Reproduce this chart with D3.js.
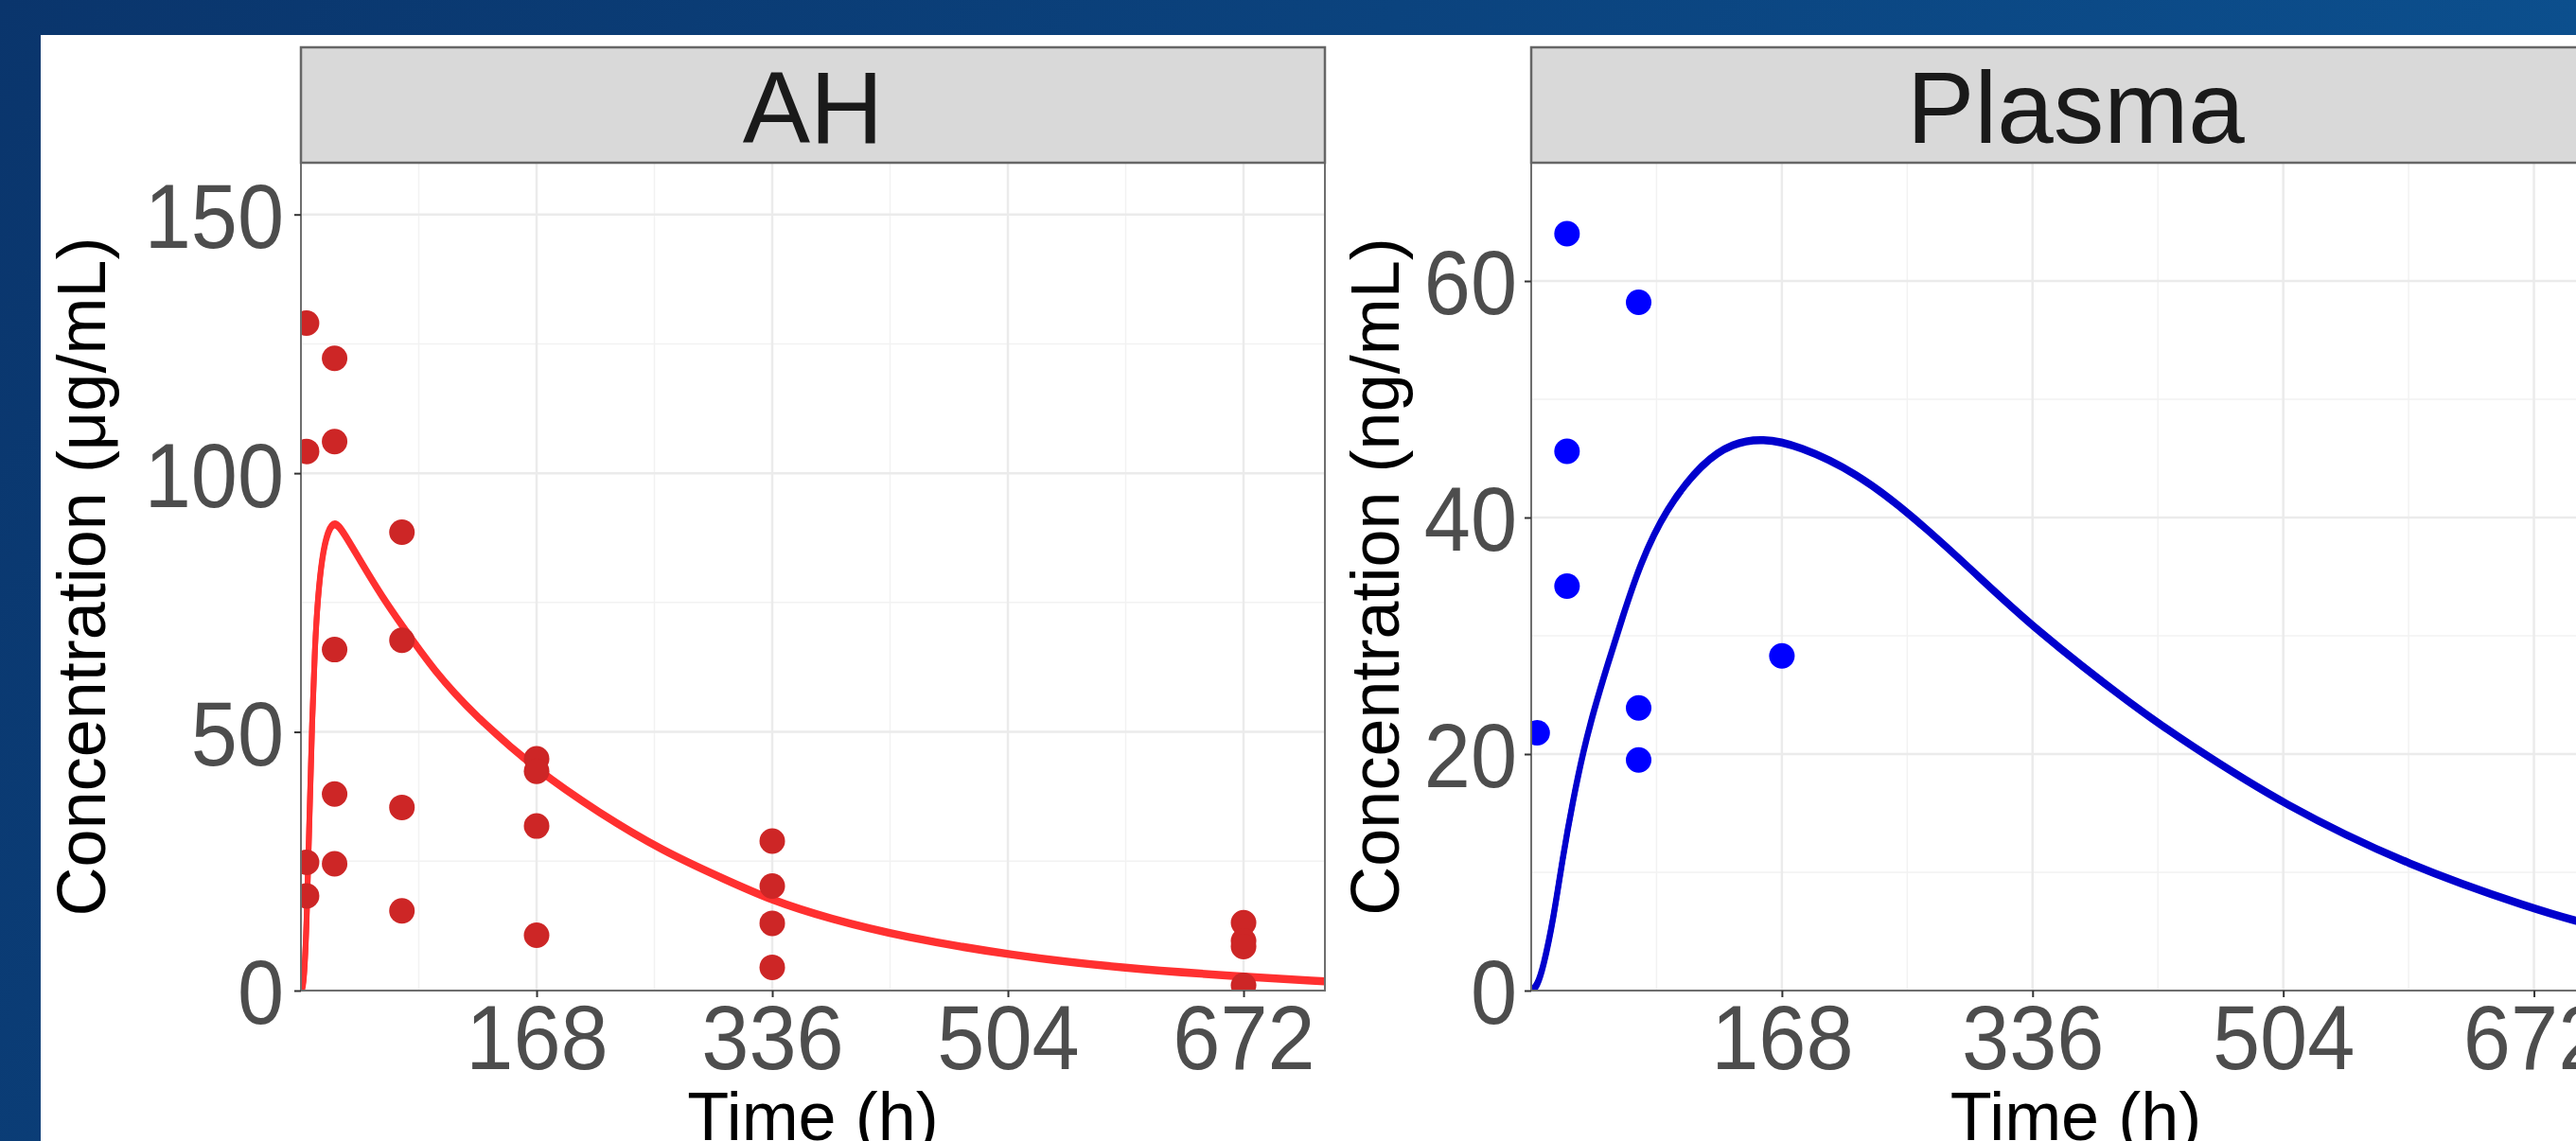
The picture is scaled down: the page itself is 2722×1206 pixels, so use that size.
<!DOCTYPE html>
<html>
<head>
<meta charset="utf-8">
<script src="https://cdn.jsdelivr.net/npm/d3@7"></script>
<style>
  html, body { margin: 0; padding: 0; overflow: hidden; background: #0b3f7a; }
  svg { display: block; font-family: "Liberation Sans", Arial, sans-serif; }
</style>
</head>
<body>
<svg id="chart" width="2722" height="1206"></svg>
<script>
// observed AH concentrations: [time (h), conc (µg/mL)]
const ahObs = [
  [4, 129], [4, 104.2], [4, 24.8], [4, 18.3],
  [24, 122.2], [24, 106.1], [24, 65.9], [24, 38], [24, 24.5],
  [72, 88.6], [72, 67.7], [72, 35.4], [72, 15.4],
  [168, 44.8], [168, 42.4], [168, 31.8], [168, 10.7],
  [336, 28.9], [336, 20.2], [336, 13], [336, 4.5],
  [672, 13.1], [672, 9.6], [672, 8.5], [672, 1]
];

// model prediction AH
const ahModel = [
  [0, 0], [2, 1], [4, 12], [6, 33], [8, 53], [10, 67], [12, 76], [15, 84],
  [19, 89], [24, 91], [30, 89], [44, 82.5], [58, 76.3], [72, 70.8], [95, 62],
  [123, 53.6], [168, 42.8], [213, 34.5], [258, 27.2], [300, 22], [336, 17.6],
  [377, 14.1], [429, 10.6], [507, 7], [584, 4.6], [672, 2.9], [730, 2]
];

// observed plasma concentrations: [time (h), conc (ng/mL)]
const plasmaObs = [
  [4, 21.8], [24, 64], [24, 45.6], [24, 34.2],
  [72, 58.2], [72, 23.9], [72, 19.5], [168, 28.3]
];

// model prediction plasma
const plasmaModel = [
  [0, 0], [4, 0.5], [8, 2], [15, 6.2], [21, 11.3], [28, 16.2], [35, 20.4],
  [42, 23.8], [51, 27.6], [61, 31.6], [73, 36.2], [90, 40.8], [115, 44.8],
  [135, 46.4], [155, 46.8], [179, 46.2], [218, 43.9], [255, 40.3], [295, 35.7],
  [336, 30.8], [406, 23.9], [440, 21], [504, 15.8], [589, 10.6], [672, 7],
  [700, 6], [730, 5]
];

const timeDomain = [0, 730];
const xTicks = [168, 336, 504, 672];
const xMinor = [84, 252, 420, 588];
const ahYTicks = [0, 50, 100, 150];
const ahYMinor = [25, 75, 125];
const plasmaYTicks = [0, 20, 40, 60];
const plasmaYMinor = [10, 30, 50];

const svg = d3.select("#chart");
const W = 2722, H = 1206;
const panelTop = 172, panelBottom = 1047, stripTop = 50;

// slide background
const defs = svg.append("defs");
const grad = defs.append("linearGradient").attr("id", "bg")
  .attr("x1", 0).attr("y1", 0).attr("x2", 1).attr("y2", 0.3);
grad.append("stop").attr("offset", "0%").attr("stop-color", "#0a356c");
grad.append("stop").attr("offset", "100%").attr("stop-color", "#0c5190");
svg.append("rect").attr("width", W).attr("height", H).attr("fill", "url(#bg)");
svg.append("rect").attr("x", 43).attr("y", 37).attr("width", W - 43).attr("height", H - 37)
  .attr("fill", "#ffffff");

// tick labels in the original are a little narrower than Liberation Sans
function narrow(sel, k) {
  sel.each(function () {
    const len = this.getComputedTextLength();
    d3.select(this).attr("textLength", len * k).attr("lengthAdjust", "spacingAndGlyphs");
  });
}

function drawPanel(cfg) {
  const x = d3.scaleLinear().domain(timeDomain).range([cfg.left, cfg.right]);
  const y = d3.scaleLinear().domain(cfg.yDomain).range([panelBottom, panelTop]);
  const g = svg.append("g");

  defs.append("clipPath").attr("id", "clip-" + cfg.name)
    .append("rect")
    .attr("x", cfg.left).attr("y", panelTop)
    .attr("width", cfg.right - cfg.left).attr("height", panelBottom - panelTop);

  // minor grid
  g.selectAll(".vminor").data(xMinor).join("line")
    .attr("x1", d => x(d)).attr("x2", d => x(d))
    .attr("y1", panelTop).attr("y2", panelBottom)
    .attr("stroke", "#f2f2f2").attr("stroke-width", 1.5);
  g.selectAll(".hminor").data(cfg.yMinor).join("line")
    .attr("x1", cfg.left).attr("x2", cfg.right)
    .attr("y1", d => y(d)).attr("y2", d => y(d))
    .attr("stroke", "#f2f2f2").attr("stroke-width", 1.5);
  // major grid
  g.selectAll(".vmajor").data(xTicks).join("line")
    .attr("x1", d => x(d)).attr("x2", d => x(d))
    .attr("y1", panelTop).attr("y2", panelBottom)
    .attr("stroke", "#ebebeb").attr("stroke-width", 2.5);
  g.selectAll(".hmajor").data(cfg.yTicks).join("line")
    .attr("x1", cfg.left).attr("x2", cfg.right)
    .attr("y1", d => y(d)).attr("y2", d => y(d))
    .attr("stroke", "#ebebeb").attr("stroke-width", 2.5);

  const plot = g.append("g").attr("clip-path", `url(#clip-${cfg.name})`);

  const line = d3.line()
    .x(d => x(d[0]))
    .y(d => y(d[1]))
    .curve(d3.curveBasis);

  // drawn twice, shifted down a touch: flat parts look heavier, as in the original
  [0, 2.5].forEach(dy => {
    plot.append("path")
      .attr("transform", `translate(0,${dy})`)
      .attr("d", line(cfg.model))
      .attr("fill", "none")
      .attr("stroke", cfg.lineColor)
      .attr("stroke-width", 6)
      .attr("stroke-linejoin", "round");
  });

  plot.selectAll("circle").data(cfg.obs).join("circle")
    .attr("cx", d => x(d[0]))
    .attr("cy", d => y(d[1]))
    .attr("r", 13.5)
    .attr("fill", cfg.pointColor);

  // panel border
  g.append("rect")
    .attr("x", cfg.left).attr("y", panelTop)
    .attr("width", cfg.right - cfg.left).attr("height", panelBottom - panelTop)
    .attr("fill", "none").attr("stroke", "#6e6e6e").attr("stroke-width", 2);

  // strip
  g.append("rect")
    .attr("x", cfg.left).attr("y", stripTop)
    .attr("width", cfg.right - cfg.left).attr("height", panelTop - stripTop)
    .attr("fill", "#d9d9d9").attr("stroke", "#666666").attr("stroke-width", 2.5);
  g.append("text")
    .attr("x", (cfg.left + cfg.right) / 2)
    .attr("y", 151)
    .attr("text-anchor", "middle")
    .attr("fill", "#1a1a1a")
    .style("font-size", "107px")
    .text(cfg.name);

  // axes
  const yAxis = d3.axisLeft(y).tickValues(cfg.yTicks).tickSize(7).tickPadding(cfg.yPad);
  g.append("g")
    .attr("transform", `translate(${cfg.left},0)`)
    .call(yAxis)
    .attr("font-family", null).attr("font-size", null)
    .call(a => a.select(".domain").remove())
    .call(a => a.selectAll("line").attr("stroke", "#333333").attr("stroke-width", 2))
    .call(a => a.selectAll("text").attr("fill", "#4d4d4d").attr("dy", "0.36em").style("font-size", "97px"))
    .call(a => narrow(a.selectAll("text"), 0.91));

  const xAxis = d3.axisBottom(x).tickValues(xTicks).tickSize(7).tickPadding(6);
  g.append("g")
    .attr("transform", `translate(0,${panelBottom})`)
    .call(xAxis)
    .attr("font-family", null).attr("font-size", null)
    .call(a => a.select(".domain").remove())
    .call(a => a.selectAll("line").attr("stroke", "#333333").attr("stroke-width", 2))
    .call(a => a.selectAll("text").attr("fill", "#4d4d4d").attr("dy", "0.72em").style("font-size", "97px"))
    .call(a => narrow(a.selectAll("text"), 0.93));

  // axis titles
  g.append("text")
    .attr("transform", `translate(${cfg.yTitleX},${(panelTop + panelBottom) / 2}) rotate(-90)`)
    .attr("text-anchor", "middle")
    .attr("fill", "#000000")
    .style("font-size", "72px")
    .text(cfg.yLabel);
  g.append("text")
    .attr("x", (cfg.left + cfg.right) / 2)
    .attr("y", 1205)
    .attr("text-anchor", "middle")
    .attr("fill", "#000000")
    .style("font-size", "72px")
    .text("Time (h)");
}

drawPanel({
  name: "AH",
  left: 318, right: 1400,
  yDomain: [0, 160],
  yTicks: ahYTicks, yMinor: ahYMinor, yPad: 11,
  obs: ahObs, model: ahModel,
  pointColor: "#cd2626", lineColor: "#ff3030",
  yLabel: "Concentration (μg/mL)", yTitleX: 111
});

drawPanel({
  name: "Plasma",
  left: 1618, right: 2769,
  yDomain: [0, 70],
  yTicks: plasmaYTicks, yMinor: plasmaYMinor, yPad: 8,
  obs: plasmaObs, model: plasmaModel,
  pointColor: "#0000ff", lineColor: "#0000cd",
  yLabel: "Concentration (ng/mL)", yTitleX: 1478
});
</script>
</body>
</html>
